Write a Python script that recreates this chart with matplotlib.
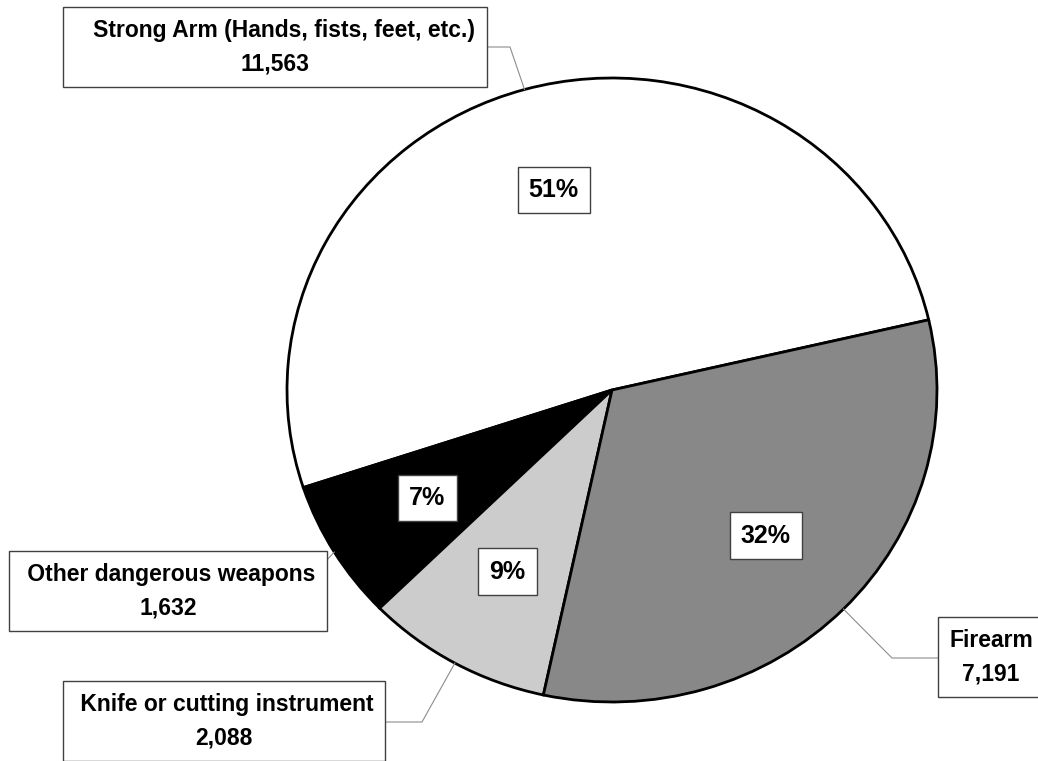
import numpy as np
import matplotlib.pyplot as plt

# weapon categories, counter-clockwise from the right-hand split
categories = ["Strong Arm (Hands, fists, feet, etc.)", "Other dangerous weapons",
              "Knife or cutting instrument", "Firearm"]
counts = [11563, 1632, 2088, 7191]
count_labels = ["11,563", "1,632", "2,088", "7,191"]
slice_colors = ["#ffffff", "#000000", "#cccccc", "#888888"]

W, H = 1038, 761
CX, CY, RX, RY = 612, 390, 325, 312


def px(x, y):
    # pixel position (from top-left) -> data coords of the pie axes
    return (x - CX) / RX, (CY - y) / RY


fig = plt.figure(figsize=(W / 100, H / 100), dpi=100)
ax = fig.add_axes([0, 0, 1, 1])

font = ["Liberation Sans", "DejaVu Sans"]

wedges, _, pcts = ax.pie(
    counts, colors=slice_colors, startangle=13, counterclock=True,
    autopct=lambda p: f"{p:.0f}%", pctdistance=0.665,
    wedgeprops=dict(edgecolor="black", linewidth=2.0),
    textprops=dict(fontsize=18, fontweight="bold", family=font))

for t in pcts:
    t.set_color("black")
    t.set_bbox(dict(boxstyle="square,pad=0.45", facecolor="white",
                    edgecolor="#404040", linewidth=1.0))

ax.set_aspect("auto")
x0, y0 = px(0, H)
x1, y1 = px(W, 0)
ax.set_xlim(x0, x1)
ax.set_ylim(y0, y1)
ax.axis("off")

# label boxes: (text centre, leader start, elbow or None, leading spaces)
label_layout = [
    ((275, 47), (487, 47), (510, 47), 3),
    ((168, 591), (325, 562), None, 1),
    ((224, 721), (384, 722), (422, 722), 1),
    ((991, 657), (938, 658), (892, 658), 0),
]

for w, name, num, (ctr, start, elbow, nsp) in zip(wedges, categories,
                                                   count_labels, label_layout):
    ang = np.deg2rad((w.theta1 + w.theta2) / 2)
    edge = (np.cos(ang), np.sin(ang))
    pts = [px(*start)] + ([px(*elbow)] if elbow else []) + [edge]
    xs, ys = zip(*pts)
    ax.plot(xs, ys, color="#8c8c8c", linewidth=0.8, clip_on=False, zorder=1)

    tx, ty = px(*ctr)
    ax.text(tx, ty, " " * nsp + name + "\n" + num, ha="center", va="center",
            multialignment="center", fontsize=16.5, fontweight="bold",
            family=font, linespacing=1.6, zorder=5,
            bbox=dict(boxstyle="square,pad=0.5", facecolor="white",
                      edgecolor="#404040", linewidth=1.0))

fig.savefig("out.png", dpi=100)
